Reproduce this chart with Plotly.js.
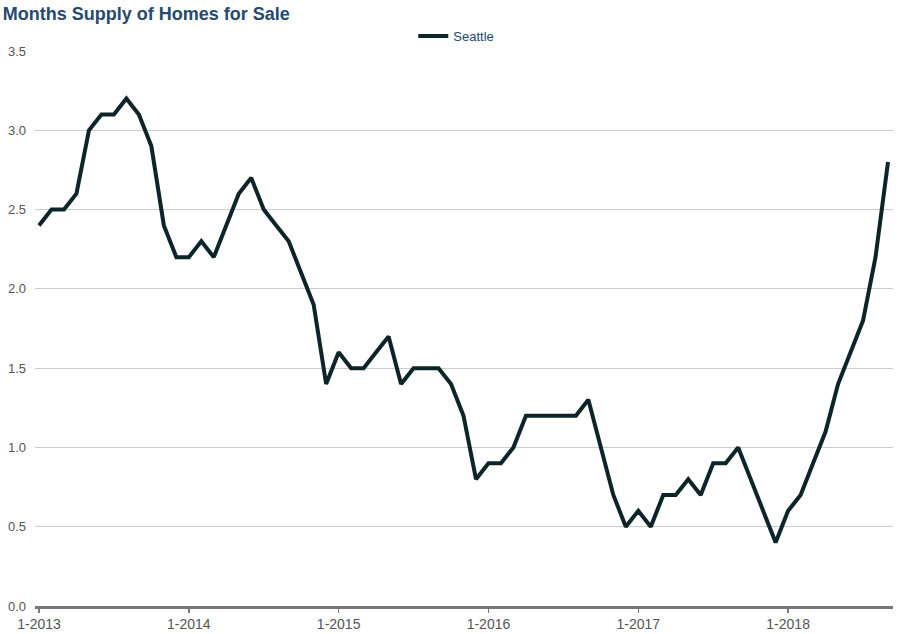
<!DOCTYPE html>
<html>
<head>
<meta charset="utf-8">
<script src="https://cdn.plot.ly/plotly-3.0.1.min.js"></script>
<style>html,body{margin:0;padding:0;background:#fff;}#chart{width:906px;height:634px;}</style>
</head>
<body>
<div id="chart"></div>
<script>
// Monthly observations, Jan 2013 .. Sep 2018
const years = [2013, 2014, 2015, 2016, 2017, 2018];
const seattle2013 = [2.4, 2.5, 2.5, 2.6, 3.0, 3.1, 3.1, 3.2, 3.1, 2.9, 2.4, 2.2];
const seattle2014 = [2.2, 2.3, 2.2, 2.4, 2.6, 2.7, 2.5, 2.4, 2.3, 2.1, 1.9, 1.4];
const seattle2015 = [1.6, 1.5, 1.5, 1.6, 1.7, 1.4, 1.5, 1.5, 1.5, 1.4, 1.2, 0.8];
const seattle2016 = [0.9, 0.9, 1.0, 1.2, 1.2, 1.2, 1.2, 1.2, 1.3, 1.0, 0.7, 0.5];
const seattle2017 = [0.6, 0.5, 0.7, 0.7, 0.8, 0.7, 0.9, 0.9, 1.0, 0.8, 0.6, 0.4];
const seattle2018 = [0.6, 0.7, 0.9, 1.1, 1.4, 1.6, 1.8, 2.2, 2.8];
const seriesName = "Seattle";
const tickLabels = ["1-2013", "1-2014", "1-2015", "1-2016", "1-2017", "1-2018"];
const yTicks = [0.0, 0.5, 1.0, 1.5, 2.0, 2.5, 3.0, 3.5];

const yearly = [seattle2013, seattle2014, seattle2015, seattle2016, seattle2017, seattle2018];
const months = [];
const values = [];
yearly.forEach((arr, yi) => {
  arr.forEach((v, mi) => {
    months.push((mi + 1) + "-" + years[yi]);
    values.push(v);
  });
});

const trace = {
  type: "scatter",
  mode: "lines",
  name: seriesName,
  x: months,
  y: values,
  line: {color: "#0d2428", width: 4}
};

const layout = {
  width: 906,
  height: 634,
  margin: {l: 35, r: 13, t: 51, b: 28, autoexpand: false},
  paper_bgcolor: "#fff",
  plot_bgcolor: "#fff",
  font: {family: "Liberation Sans, Arial, sans-serif", size: 13, color: "#555"},
  title: {
    text: "<b>Months Supply of Homes for Sale</b>",
    font: {family: "Liberation Sans, Arial, sans-serif", size: 18, color: "#254a6d"},
    x: 0.003, xanchor: "left", xref: "container",
    y: 0.978, yanchor: "middle", yref: "container",
    automargin: false
  },
  showlegend: true,
  legend: {
    orientation: "h",
    x: 0.491, xanchor: "center", xref: "paper",
    y: 1.0, yanchor: "bottom", yref: "paper",
    font: {size: 13, color: "#254a6d"},
    itemwidth: 30,
    bgcolor: "rgba(0,0,0,0)"
  },
  xaxis: {
    type: "category",
    range: [-0.32, 68.4],
    tickmode: "array",
    tickvals: tickLabels,
    ticktext: tickLabels,
    ticks: "outside",
    ticklen: 4,
    tickwidth: 1.5,
    tickcolor: "#777",
    showgrid: false,
    showline: true,
    linecolor: "#777",
    linewidth: 2.5,
    zeroline: false,
    automargin: false,
    tickfont: {size: 14, color: "#555"},
    fixedrange: true
  },
  yaxis: {
    range: [0, 3.5],
    tickmode: "array",
    tickvals: yTicks,
    ticktext: yTicks.map(v => v.toFixed(1)),
    showgrid: true,
    gridcolor: "#cccccc",
    gridwidth: 1,
    zeroline: false,
    showline: false,
    ticks: "",
    ticklabelstandoff: 8,
    automargin: false,
    tickfont: {size: 13, color: "#555"},
    fixedrange: true
  }
};

Plotly.newPlot("chart", [trace], layout, {displayModeBar: false, staticPlot: true});
</script>
</body>
</html>
